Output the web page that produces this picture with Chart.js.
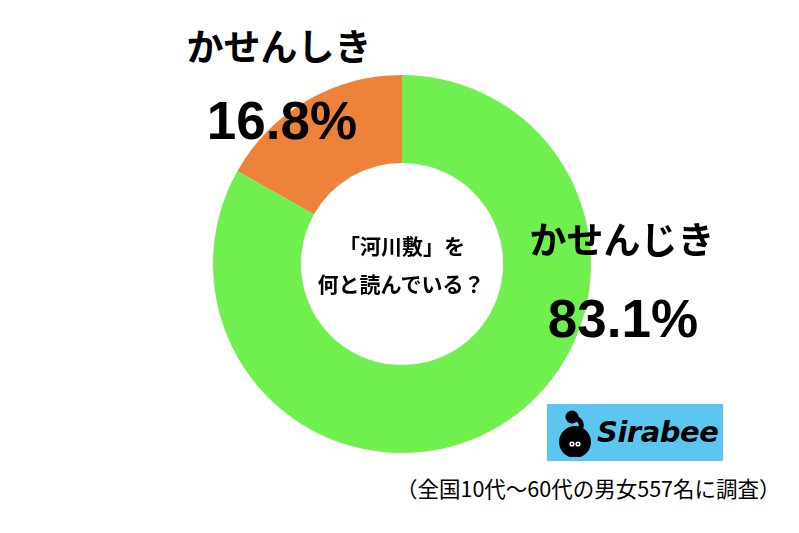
<!DOCTYPE html>
<html lang="ja">
<head>
<meta charset="utf-8">
<script src="https://cdn.jsdelivr.net/npm/chart.js@4.4.1/dist/chart.umd.min.js"></script>
<style>
  html, body { margin:0; padding:0; background:#fff; }
  body { width:799px; height:533px; position:relative; overflow:hidden;
         font-family:"Noto Sans CJK JP","Noto Sans",sans-serif; color:#000; }
  #wrap { position:absolute; left:213px; top:75px; width:378px; height:378px; }
  .lbl { position:absolute; transform:translate(-50%,-50%); white-space:nowrap; line-height:1; }
  .cat { font-size:37px; font-weight:700; }
  .pct { font-size:53px; font-weight:700; font-family:"Liberation Sans","Noto Sans",sans-serif; }
  .q   { font-size:21px; font-weight:700; }
  #note { position:absolute; left:396px; top:476px; font-size:21.5px; line-height:24px; white-space:nowrap; }
  #logo { position:absolute; left:547px; top:404px; width:176px; height:57px; background:#5BC7F1; }
  #logo svg { position:absolute; left:8px; top:3px; }
  #logo span { position:absolute; left:50px; top:10px; font-family:"DejaVu Sans","Liberation Sans",sans-serif;
               font-weight:700; font-style:italic; font-size:29px; line-height:36px; letter-spacing:-0.5px; }
</style>
</head>
<body>
<div id="wrap"><canvas id="pie" width="378" height="378"></canvas></div>

<div class="lbl q" style="left:402px;top:245px">「河川敷」を</div>
<div class="lbl q" style="left:401px;top:283px">何と読んでいる？</div>

<div class="lbl cat" id="lab1" style="left:279px;top:45px"></div>
<div class="lbl pct" id="val1" style="left:282px;top:120px"></div>
<div class="lbl cat" id="lab0" style="left:622px;top:238px"></div>
<div class="lbl pct" id="val0" style="left:623px;top:318px"></div>

<div id="logo">
  <svg width="40" height="50" viewBox="0 0 40 50">
    <circle cx="20" cy="35" r="16" fill="#000"/>
    <circle cx="17" cy="10" r="6.5" fill="#000"/>
    <path d="M17 10 C 30 13, 28 23, 20 25" stroke="#000" stroke-width="5" fill="none"/>
    <circle cx="17" cy="37" r="2.6" fill="#fff"/>
    <circle cx="23" cy="37" r="2.6" fill="#fff"/>
    <circle cx="17" cy="37" r="1.1" fill="#000"/>
    <circle cx="23" cy="37" r="1.1" fill="#000"/>
  </svg>
  <span>Sirabee</span>
</div>
<div id="note">（全国10代～60代の男女557名に調査）</div>

<script>
/* ─── Data ─────────────────────────────────────────────── */
const categories = ["かせんじき", "かせんしき"];
const shares     = [83.1, 16.8];
const colours    = ["#70F04F", "#EE823A"];

/* ─── Labels ───────────────────────────────────────────── */
categories.forEach((c, i) => {
  document.getElementById("lab" + i).textContent = c;
  document.getElementById("val" + i).textContent = shares[i].toFixed(1) + "%";
});

/* ─── Donut ────────────────────────────────────────────── */
new Chart(document.getElementById("pie").getContext("2d"), {
  type: "doughnut",
  data: {
    labels: categories,
    datasets: [{
      data: shares,
      backgroundColor: colours,
      borderWidth: 0,
    }],
  },
  options: {
    responsive: false, animation: false,
    cutout: "53.5%",
    layout: { padding: 0 },
    plugins: { legend: { display: false }, tooltip: { enabled: false } },
  },
});
</script>
</body>
</html>
